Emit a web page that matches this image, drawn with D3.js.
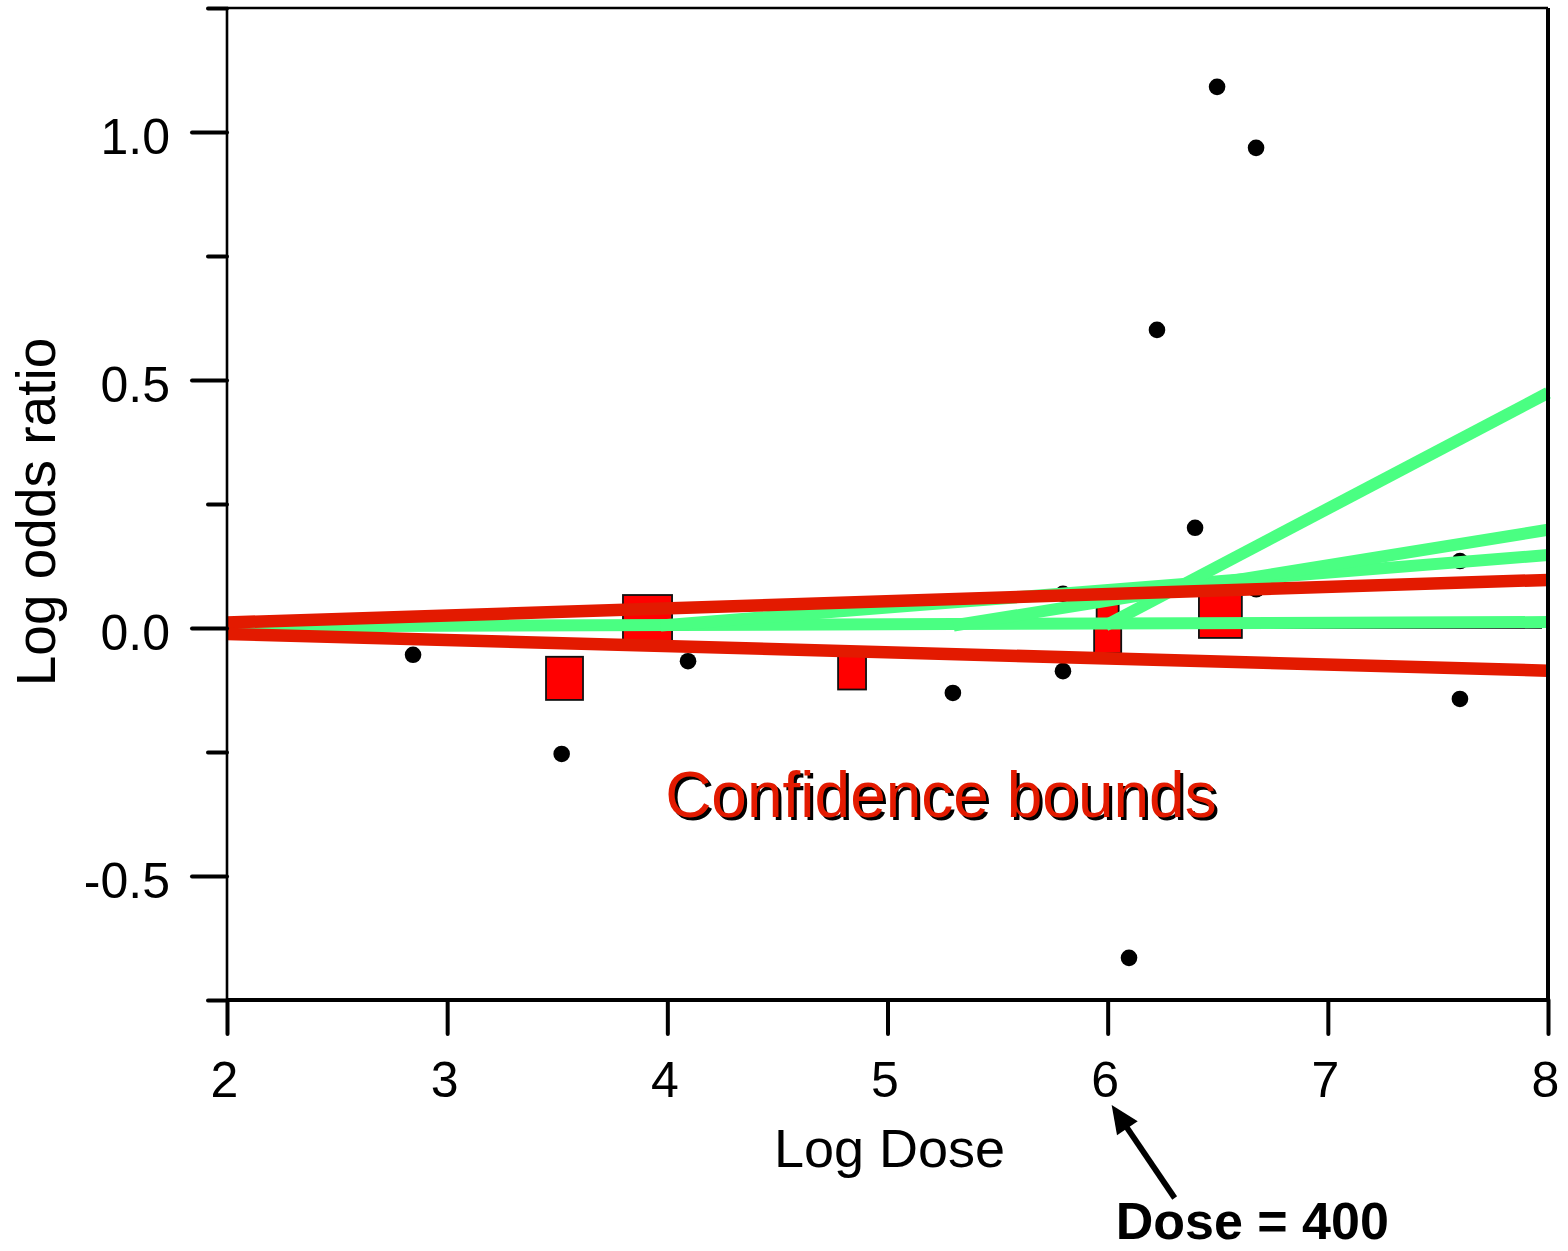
<!DOCTYPE html>
<html><head><meta charset="utf-8">
<script src="https://cdn.jsdelivr.net/npm/d3@7"></script>
<style>body{margin:0;background:#fff} svg{display:block} text{font-family:"Liberation Sans",Arial,sans-serif}</style>
</head><body><svg id="c" width="1568" height="1251"></svg>
<script>
// ---- data ----
const xTicks = [2, 3, 4, 5, 6, 7, 8];
const yMajorTicks = [-0.5, 0, 0.5, 1.0];
const yMajorLabels = ["-0.5", "0.0", "0.5", "1.0"];
const yMinorTicks = [-0.75, -0.25, 0.25, 0.75, 1.25];

const dotX = [2.845, 3.52, 4.094, 5.297, 5.797, 5.797, 6.097, 6.224, 6.397, 6.497, 6.674, 6.675, 7.6, 7.6];
const dotY = [-0.054, -0.254, -0.067, -0.131, -0.087, 0.069, -0.665, 0.601, 0.202, 1.091, 0.968, 0.078, 0.135, -0.143];

const boxX = [3.533, 3.910, 4.839, 6.0, 6.0, 6.512];
const boxTop = [-0.058, 0.0665, -0.04, 0.048, 0.002, 0.08];
const boxBottom = [-0.145, -0.026, -0.124, 0.005, -0.051, -0.02];
const boxWidth = [0.168, 0.223, 0.127, 0.1, 0.123, 0.195];

const boundX = [2, 8];
const upperBoundY = [0.011, 0.097];
const lowerBoundY = [-0.012, -0.086];

const greenStartX = [2, 3.97, 5.3, 5.99];
const greenStartY = [0.003, 0.005, 0.005, 0.005];
const greenEndX = [8, 8, 8, 8];
const greenEndY = [0.012, 0.147, 0.198, 0.474];

// ---- scales ----
const svg = d3.select("#c");
const x = d3.scaleLinear().domain([2, 8]).range([227, 1548]);
const y = d3.scaleLinear().domain([-0.75, 1.25]).range([1000, 8]);
const RED_LINE = "#e31a00", GREEN = "#4aff82", BOX_RED = "#ff0000";

// zero reference line
svg.append("line").attr("x1", x(2)).attr("x2", x(8) - 6)
  .attr("y1", y(0)).attr("y2", y(0)).attr("stroke", "#000").attr("stroke-width", 1.6);

// boxes
svg.append("g").selectAll("rect").data(boxX.map((d, i) => i)).join("rect")
  .attr("x", i => x(boxX[i] - boxWidth[i] / 2))
  .attr("width", i => x(boxX[i] + boxWidth[i] / 2) - x(boxX[i] - boxWidth[i] / 2))
  .attr("y", i => y(boxTop[i]))
  .attr("height", i => y(boxBottom[i]) - y(boxTop[i]))
  .attr("fill", BOX_RED).attr("stroke", "#111").attr("stroke-width", 1.8);

// dots
svg.append("g").selectAll("circle").data(dotX.map((d, i) => i)).join("circle")
  .attr("cx", i => x(dotX[i])).attr("cy", i => y(dotY[i])).attr("r", 8.3).attr("fill", "#000");

// green lines
const line = d3.line().x(d => x(d[0])).y(d => y(d[1]));
svg.append("g").selectAll("path").data(greenStartX.map((d, i) => i)).join("path")
  .attr("d", i => line([[greenStartX[i], greenStartY[i]], [greenEndX[i], greenEndY[i]]]))
  .attr("stroke", GREEN).attr("stroke-width", 12).attr("fill", "none");

// red confidence bounds
[upperBoundY, lowerBoundY].forEach(arr => {
  svg.append("path").attr("d", line(boundX.map((bx, i) => [bx, arr[i]])))
    .attr("stroke", RED_LINE).attr("stroke-width", 12.5).attr("fill", "none");
});

// ---- axes ----
// frame
svg.append("line").attr("x1", x(2)).attr("x2", x(8)).attr("y1", y(1.25)).attr("y2", y(1.25))
  .attr("stroke", "#000").attr("stroke-width", 2.5);
svg.append("line").attr("x1", x(8)).attr("x2", x(8)).attr("y1", y(1.25)).attr("y2", y(-0.75))
  .attr("stroke", "#000").attr("stroke-width", 4);
svg.append("line").attr("x1", x(2)).attr("x2", x(2)).attr("y1", y(1.25)).attr("y2", y(-0.75))
  .attr("stroke", "#000").attr("stroke-width", 2.6);
svg.append("line").attr("x1", x(2)).attr("x2", x(8)).attr("y1", y(-0.75)).attr("y2", y(-0.75))
  .attr("stroke", "#000").attr("stroke-width", 4);

// y major ticks
const yAx = svg.append("g").attr("transform", `translate(${x(2)},0)`)
  .call(d3.axisLeft(y).tickValues(yMajorTicks).tickSize(35).tickPadding(22)
    .tickFormat((d, i) => yMajorLabels[i]));
yAx.select(".domain").remove();
yAx.selectAll("line").attr("stroke-width", 4).attr("stroke-linecap", "round");
yAx.selectAll("text").attr("font-size", 50).attr("fill", "#000").attr("dy", "0.42em")
  .attr("font-family", '"Liberation Sans",Arial,sans-serif');

// y minor ticks
const yMin = svg.append("g").attr("transform", `translate(${x(2)},0)`)
  .call(d3.axisLeft(y).tickValues(yMinorTicks).tickSize(19).tickFormat(""));
yMin.select(".domain").remove();
yMin.selectAll("line").attr("stroke-width", 4).attr("stroke-linecap", "round");

// x ticks
const xAx = svg.append("g").attr("transform", `translate(0,${y(-0.75)})`)
  .call(d3.axisBottom(x).tickValues(xTicks).tickSize(34).tickFormat(d3.format("d")));
xAx.select(".domain").remove();
xAx.selectAll("line").attr("stroke-width", 4).attr("stroke-linecap", "round");
xAx.selectAll("text").attr("font-size", 50).attr("fill", "#000")
  .attr("y", 97).attr("dy", 0).attr("dx", -3)
  .attr("font-family", '"Liberation Sans",Arial,sans-serif');

// axis titles
svg.append("text").attr("x", (x(2) + x(8)) / 2 + 2).attr("y", 1167).attr("text-anchor", "middle")
  .attr("font-size", 54).text("Log Dose");
svg.append("text").attr("transform", `translate(55,${(y(1.25) + y(-0.75)) / 2 + 8}) rotate(-90)`)
  .attr("text-anchor", "middle").attr("font-size", 55).text("Log odds ratio");

// annotation: Confidence bounds (with shadow)
const cbX = x(3.99), cbY = 817;
svg.append("text").attr("x", cbX + 3).attr("y", cbY + 3).attr("font-size", 64).attr("fill", "#000").text("Confidence bounds");
svg.append("text").attr("x", cbX).attr("y", cbY).attr("font-size", 64).attr("fill", RED_LINE).text("Confidence bounds");

// annotation: arrow to Dose = 400
const tip = [x(6) + 4, 1105], tail = [x(6) + 67, 1198];
const dx = tip[0] - tail[0], dy = tip[1] - tail[1], len = Math.hypot(dx, dy);
const ux = dx / len, uy = dy / len, hl = 28, hw = 12.5;
const base = [tip[0] - ux * hl, tip[1] - uy * hl];
svg.append("line").attr("x1", tail[0]).attr("y1", tail[1]).attr("x2", base[0] + ux * 2).attr("y2", base[1] + uy * 2)
  .attr("stroke", "#000").attr("stroke-width", 5.8);
svg.append("path").attr("d", `M${tip[0]},${tip[1]} L${base[0] - uy * hw},${base[1] + ux * hw} L${base[0] + uy * hw},${base[1] - ux * hw} Z`)
  .attr("fill", "#000");
svg.append("text").attr("x", x(6) + 8).attr("y", 1239).attr("font-size", 52).attr("font-weight", "bold")
  .attr("fill", "#000").text("Dose = 400");
</script></body></html>
